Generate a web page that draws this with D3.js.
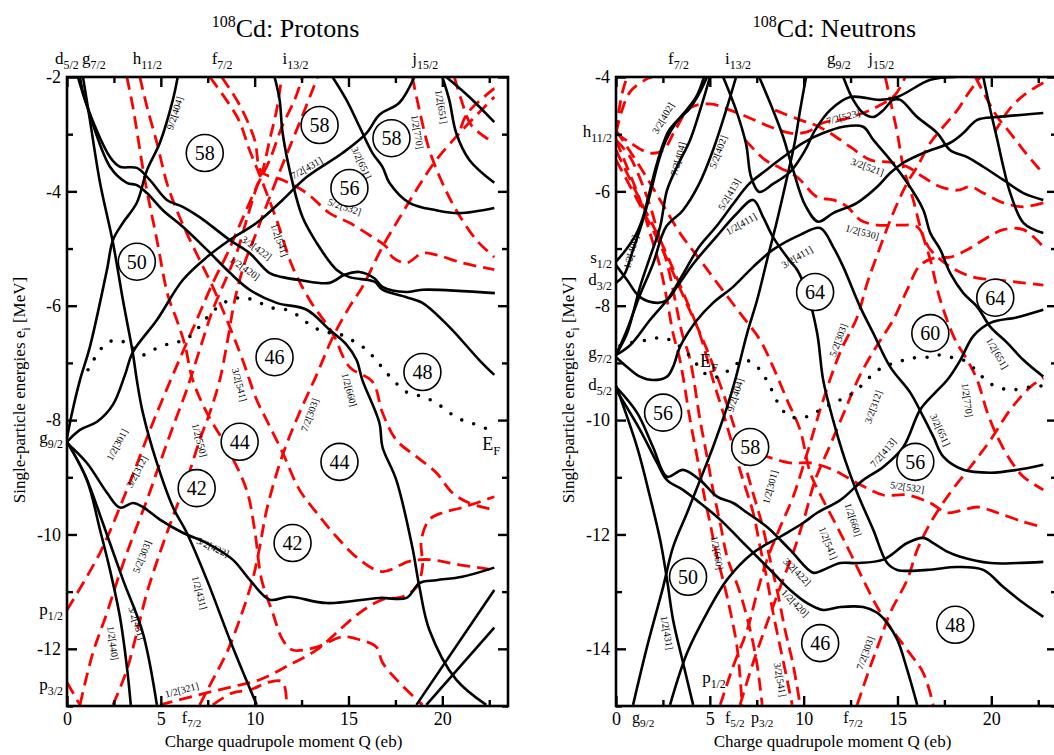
<!DOCTYPE html>
<html>
<head>
<meta charset="utf-8">
<script src="https://cdn.jsdelivr.net/npm/d3@7"></script>
<style>
  body { margin: 0; background: #fff; }
  svg { display: block; font-family: "Liberation Serif", "DejaVu Serif", serif; }
</style>
</head>
<body>
<div id="chart"></div>
<script>
// ---- Protons: single-particle levels [Q (eb), e (MeV)] ----
const protonsSolid = [
  [[0.69,-2.0],[0.96,-2.4],[2.29,-3.4],[2.82,-3.57],[3.72,-3.59],[4.41,-3.8],[5.32,-4.15],[6.17,-4.27],[7.07,-4.45],[8.67,-4.85],[9.73,-5.08],[10.8,-5.43],[11.49,-5.5],[12.39,-5.55],[13.99,-5.6],[14.79,-5.46],[15.59,-5.41],[16.38,-5.52],[16.81,-5.67],[18.09,-5.76],[18.94,-5.72],[22.8,-5.78]],
  [[0.58,-2.0],[0.96,-2.4],[2.29,-3.57],[3.19,-3.85],[3.72,-3.89],[4.26,-4.03],[5.11,-4.33],[6.17,-4.62],[7.45,-5.02],[8.67,-5.42],[9.73,-5.72],[11.17,-5.95],[12.77,-6.07],[13.99,-6.42],[14.89,-6.68],[15.43,-6.95],[15.74,-7.3],[16.65,-8.05],[16.81,-8.47],[17.55,-9.05],[18.4,-10.22],[18.78,-10.92],[19.31,-11.67],[20.74,-12.54],[22.34,-12.98]],
  [[0.85,-2.0],[1.22,-2.75],[1.76,-3.85],[2.45,-4.9],[2.98,-5.9],[3.51,-6.83],[3.72,-7.3],[4.04,-7.87],[4.79,-8.75],[5.64,-9.52],[6.38,-9.97],[7.45,-10.79],[8.83,-11.97],[10.11,-12.98]],
  [[0,-8.31],[0.27,-7.87],[0.69,-7.3],[1.22,-6.72],[2.13,-5.37],[2.45,-4.85],[2.98,-4.55],[3.72,-4.2],[4.26,-3.63],[4.95,-3.15],[5.64,-2.4],[5.9,-2.0]],
  [[0,-8.38],[0.69,-8.17],[1.6,-8.03],[2.45,-7.73],[3.09,-7.21],[3.51,-6.81],[4.79,-6.25],[6.17,-5.55],[7.45,-5.15],[8.67,-4.85],[10.11,-4.55],[11.49,-4.15],[12.77,-3.75],[14.68,-3.33],[15.96,-2.98],[16.65,-2.66],[17.71,-2.45],[18.51,-2.0]],
  [[11.06,-2.0],[11.33,-2.4],[11.49,-2.98],[12.02,-3.85],[12.55,-4.45],[13.3,-4.9],[14.36,-5.37],[15.05,-5.5],[16.38,-5.58],[16.81,-5.72],[18.09,-5.85],[18.94,-5.95],[20.37,-6.37],[21.97,-6.95],[22.77,-7.21]],
  [[14.15,-2.0],[14.89,-2.4],[15.59,-2.87],[16.28,-3.33],[16.81,-3.57],[17.18,-3.85],[18.24,-4.2],[19.68,-4.33],[20.9,-4.38],[22.77,-4.29]],
  [[20.0,-2.0],[20.37,-2.4],[20.74,-2.98],[21.44,-3.45],[22.77,-3.85]],
  [[20.21,-2.0],[21.44,-2.35],[22.77,-2.79]],
  [[0,-8.4],[1.06,-8.75],[2.13,-9.27],[2.82,-9.53],[3.51,-9.45],[4.04,-9.52],[4.95,-9.74],[6.17,-9.97],[7.45,-10.15],[8.83,-10.44],[9.73,-10.79],[10.8,-11.14],[11.86,-11.09],[13.83,-11.2],[16.65,-11.11],[18.09,-11.11],[18.78,-10.85],[19.68,-10.8],[21.06,-10.74],[22.77,-10.58]],
  [[0,-8.38],[1.06,-9.05],[1.76,-9.92],[2.29,-10.62],[2.82,-11.44],[3.19,-12.31],[3.4,-12.98]],
  [[0,-8.38],[0.96,-8.96],[1.91,-9.8],[2.98,-10.79],[4.04,-11.72],[4.79,-12.98]],
  [[18.62,-12.98],[22.77,-10.97]],
  [[19.15,-12.98],[22.77,-11.63]]
];
const protonsDashed = [
  [[3.19,-2.0],[3.51,-2.52],[4.15,-3.8],[4.79,-4.85],[5.37,-5.81],[5.85,-6.25],[6.28,-6.68],[6.7,-7.3],[7.45,-7.87],[8.51,-8.47],[9.57,-9.22],[10.0,-9.92],[10.37,-10.79],[10.96,-11.37],[11.49,-11.84],[12.02,-12.02],[13.3,-11.97],[14.68,-11.79],[15.59,-11.84],[16.49,-11.97],[16.81,-12.24],[17.71,-12.59],[18.94,-12.98]],
  [[3.88,-2.0],[4.26,-2.52],[4.79,-3.15],[5.32,-3.85],[5.85,-4.33],[6.38,-4.73],[7.07,-5.2],[7.77,-5.67],[8.67,-6.37],[9.36,-6.95],[10.11,-7.65],[10.64,-8.0],[11.49,-8.57],[12.39,-9.22],[13.3,-9.62],[14.36,-10.04],[15.59,-10.44],[16.81,-10.65],[18.24,-10.47],[19.31,-10.44],[20.9,-10.53],[22.77,-10.62]],
  [[7.61,-2.0],[9.1,-2.72],[9.73,-3.28],[10.37,-3.8],[11.17,-4.5],[12.02,-5.32],[12.93,-5.9],[14.15,-6.48],[15.05,-7.07],[16.28,-7.33],[16.81,-7.87],[17.55,-8.35],[18.62,-8.64],[19.68,-8.92],[20.53,-9.27],[21.44,-9.45],[22.77,-9.57]],
  [[8.24,-2.0],[9.2,-2.49],[10.0,-3.1],[10.37,-3.66],[11.49,-3.8],[12.77,-4.03],[13.99,-4.38],[15.05,-4.55],[16.28,-4.8],[17.02,-4.97],[17.34,-5.15],[18.09,-5.25],[18.94,-5.08],[19.68,-5.11],[21.06,-5.25],[22.77,-5.37]],
  [[0,-11.32],[1.76,-10.32],[3.19,-9.22],[4.57,-8.05],[5.64,-7.21],[6.91,-6.25],[7.77,-5.6],[8.51,-5.11],[9.2,-4.59],[10.11,-3.92],[10.8,-3.45],[11.49,-2.84],[12.13,-2.4],[12.55,-2.0]],
  [[0.69,-12.98],[1.38,-12.07],[2.13,-11.37],[2.82,-10.67],[3.51,-10.04],[4.26,-9.4],[4.95,-8.75],[5.64,-8.12],[6.38,-7.47],[7.07,-6.77],[7.77,-6.07],[8.51,-5.5],[9.04,-5.08],[9.57,-4.5],[10.11,-3.92],[10.43,-3.63],[10.8,-3.1],[11.17,-2.58],[11.44,-2.0]],
  [[2.45,-12.98],[3.19,-12.37],[3.72,-11.72],[4.26,-11.02],[4.95,-10.32],[5.64,-9.69],[6.38,-9.05],[7.07,-8.35],[7.61,-7.87],[8.14,-7.3],[8.56,-6.6],[8.94,-5.9],[9.47,-5.25],[10.0,-4.8],[10.64,-4.24],[11.33,-3.66],[12.02,-3.1],[12.66,-2.58],[13.35,-2.0]],
  [[7.07,-12.98],[7.77,-12.54],[8.51,-12.07],[9.2,-11.49],[9.89,-10.79],[10.27,-10.22],[10.64,-9.57],[11.49,-8.61],[12.39,-7.87],[13.3,-7.21],[14.15,-6.56],[15.05,-6.02],[15.74,-5.67],[16.81,-4.97],[17.87,-4.38],[18.78,-3.89],[19.68,-3.45],[21.06,-2.93],[22.77,-2.35]],
  [[4.95,-12.98],[7.07,-12.8],[8.83,-12.66],[10.27,-12.54],[11.86,-12.28],[13.3,-12.02],[14.52,-11.67],[15.59,-11.37],[16.81,-11.14],[17.87,-11.09],[18.62,-10.92],[18.94,-10.57],[18.88,-10.1],[19.31,-9.74],[20.0,-9.62],[21.06,-9.53],[22.77,-9.34]],
  [[7.77,-12.98],[8.83,-12.77],[9.73,-12.72],[10.8,-12.58],[11.49,-12.58],[11.7,-12.98]],
  [[0,-12.59],[0.69,-12.98]],
  [[18.4,-2.0],[18.78,-2.58],[19.31,-3.28],[20.0,-3.85],[20.74,-4.33],[21.81,-4.85],[22.77,-5.15]],
  [[20.64,-2.0],[21.01,-2.4],[21.54,-2.84],[22.5,-3.1],[22.77,-3.15]],
  [[22.77,-2.2],[21.3,-2.65],[20.9,-3.0]]
];
const protonsFermi = [[1.12,-7.12],[2.02,-6.68],[2.71,-6.6],[3.46,-6.72],[4.04,-6.86],[4.79,-6.74],[5.59,-6.65],[6.28,-6.6],[6.91,-6.42],[7.45,-6.21],[7.98,-6.04],[8.67,-5.9],[9.47,-5.86],[10.27,-5.95],[10.96,-6.04],[11.7,-6.07],[12.39,-6.19],[13.09,-6.37],[13.83,-6.46],[14.63,-6.51],[15.32,-6.63],[15.96,-6.77],[16.54,-6.98],[17.02,-7.17],[17.55,-7.36],[18.14,-7.52],[18.94,-7.59],[19.68,-7.7],[20.37,-7.87],[21.06,-8.0],[21.81,-8.08],[22.5,-8.17]];
const protonsMagic = [[58,7.34,-3.33],[58,13.46,-2.84],[58,17.29,-3.07],[56,15.05,-3.94],[50,3.72,-5.23],[46,11.06,-6.9],[48,18.94,-7.16],[44,9.2,-8.38],[44,14.52,-8.73],[42,6.91,-9.19],[42,12.02,-10.15]];
const protonsOrbits = [
  ["9/2[404]",5.74,-2.63,-72],["7/2[431]",12.77,-3.59,-30],["3/2[651]",15.69,-3.5,65],["1/2[770]",18.67,-2.96,80],
  ["1/2[651]",19.95,-2.52,80],["5/2[532]",14.79,-4.27,18],["3/2[422]",10.11,-4.99,35],["1/2[420]",9.47,-5.34,35],
  ["1/2[541]",11.33,-4.85,70],["3/2[541]",9.2,-7.38,75],["1/2[660]",15.05,-7.47,75],["7/2[303]",12.93,-7.91,-70],
  ["1/2[550]",7.07,-8.35,75],["1/2[301]",2.66,-8.43,-62],["3/2[312]",3.72,-8.9,-62],["5/2[303]",3.99,-10.39,-68],
  ["5/2[422]",7.77,-10.22,25],["1/2[431]",7.07,-11.02,75],["3/2[431]",3.72,-11.55,72],["1/2[440]",2.45,-11.9,82],
  ["1/2[321]",6.12,-12.72,-15]
];
const protonsTopShells = [["d","5/2",-0.64],["g","7/2",0.8],["h","11/2",3.51],["f","7/2",7.71],["i","13/2",11.49],["j","15/2",18.4]];
const protonsSideShells = [["g","9/2",-8.4],["p","1/2",-11.4],["p","3/2",-12.72]];
const protonsBottomShells = [["f","7/2",6.12]];

// ---- Neutrons ----
const neutronsSolid = [
  [[0,-7.23],[0.53,-7.02],[1.07,-6.75],[1.44,-6.45],[1.76,-6.05],[2.13,-5.57],[2.51,-5.17],[2.83,-4.93],[3.57,-4.65],[4.27,-4.35],[4.69,-4.0]],
  [[0,-7.6],[0.43,-7.46],[0.91,-7.02],[1.44,-6.5],[1.87,-5.98],[2.29,-5.45],[2.67,-5.1],[3.2,-4.8],[3.95,-4.54],[4.48,-4.26],[4.85,-4.0]],
  [[0,-8.86],[0.59,-8.48],[0.91,-8.13],[1.28,-7.67],[1.81,-7.15],[2.35,-6.62],[2.72,-5.98],[3.25,-5.57],[3.95,-5.1],[4.48,-4.58],[5.01,-4.0]],
  [[0,-8.86],[0.59,-8.42],[1.23,-7.85],[1.97,-7.27],[2.67,-6.62],[3.57,-6.33],[4.43,-5.87],[5.17,-5.28],[5.87,-4.58],[6.4,-4.0]],
  [[0,-7.29],[0.59,-7.55],[1.28,-7.85],[2.19,-7.95],[2.72,-7.9],[3.25,-7.67],[4.11,-7.27],[5.33,-6.8],[6.4,-6.4],[7.31,-6.15],[7.84,-6.45],[8.37,-6.8],[9.23,-7.2],[9.65,-7.37],[10.19,-7.78],[10.72,-8.48],[11.04,-9.3],[11.57,-10.0],[12.21,-10.7],[12.85,-11.27],[13.71,-11.92],[14.45,-12.5],[14.99,-12.62],[16.59,-12.62],[18.19,-12.57],[19.57,-12.62],[20.64,-12.92],[21.71,-13.2],[22.77,-13.44]],
  [[0,-8.9],[0.59,-9.07],[1.28,-9.24],[1.97,-9.3],[2.72,-9.24],[3.04,-9.07],[3.41,-8.72],[4.32,-8.25],[5.17,-7.95],[6.24,-7.67],[7.31,-7.32],[8.37,-7.02],[9.81,-6.76],[10.88,-6.64],[11.57,-6.97],[12.11,-7.32],[13.01,-8.02],[13.71,-8.48],[14.61,-9.07],[15.68,-9.52],[16.37,-9.94],[16.91,-10.29],[17.44,-10.64],[18.51,-10.87],[19.95,-10.92],[21.39,-10.87],[22.77,-10.78]],
  [[0,-8.86],[0.75,-8.69],[1.81,-8.25],[2.83,-7.85],[3.57,-7.45],[4.43,-6.97],[5.33,-6.62],[6.24,-6.22],[7.09,-5.87],[8.0,-5.63],[8.91,-5.4],[9.97,-5.15],[11.04,-4.98],[12.11,-4.87],[13.17,-4.87],[13.71,-5.1],[14.61,-5.45],[15.52,-5.85],[16.37,-6.32],[16.75,-6.73],[17.28,-7.02],[17.81,-7.43],[18.51,-7.78],[19.25,-8.02],[19.95,-8.37],[20.85,-8.65],[21.71,-8.95],[22.77,-9.24]],
  [[5.71,-4.0],[6.4,-4.58],[6.93,-5.17],[7.2,-5.75],[7.63,-6.01],[8.37,-5.87],[9.28,-5.66],[10.08,-5.28],[10.61,-4.93],[11.41,-4.58],[12.48,-4.35],[14.08,-4.4],[14.99,-4.35],[16.75,-4.05],[18.08,-4.0]],
  [[7.63,-4.0],[8.37,-4.58],[8.91,-5.05],[9.44,-5.63],[10.08,-6.24],[10.77,-6.53],[11.57,-6.38],[12.85,-6.2],[13.92,-5.92],[14.61,-5.68],[15.31,-5.5],[16.37,-5.33],[17.81,-5.15],[18.51,-4.98],[19.25,-4.75],[20.32,-4.7],[21.71,-4.66],[22.77,-4.63]],
  [[0.91,-14.98],[1.65,-13.97],[2.51,-12.92],[3.04,-12.22],[3.79,-11.62],[4.48,-11.05],[5.17,-10.47],[5.92,-9.77],[6.35,-9.3],[6.99,-8.48],[7.52,-7.9],[8.05,-7.2],[8.59,-6.5],[9.12,-5.75],[9.55,-5.1],[9.81,-4.58],[10.13,-4.0]],
  [[2.88,-14.98],[3.79,-14.07],[4.85,-13.37],[5.92,-12.79],[7.31,-12.32],[8.75,-12.04],[9.97,-11.8],[10.72,-11.62],[11.95,-11.4],[13.17,-11.05],[14.24,-10.82],[15.31,-10.47],[16.21,-9.82],[17.01,-9.52],[17.65,-9.3],[18.35,-8.95],[19.04,-8.53],[19.95,-8.3],[21.39,-8.2],[22.77,-8.07]],
  [[0,-9.4],[1.12,-10.47],[1.81,-11.34],[2.35,-12.09],[2.72,-12.79],[3.04,-13.49],[3.57,-14.24],[4.11,-14.98]],
  [[0,-9.42],[1.12,-9.87],[1.97,-10.47],[2.72,-10.99],[3.57,-10.87],[4.48,-11.05],[5.39,-11.34],[6.24,-11.45],[6.99,-11.62],[8.05,-11.87],[9.28,-12.27],[10.51,-12.67],[11.04,-12.62],[11.95,-12.5],[12.85,-12.5],[14.24,-12.44],[15.52,-12.15],[16.37,-12.06],[16.91,-12.15],[17.65,-12.3],[18.35,-12.39],[19.95,-12.5],[21.39,-12.5],[22.77,-12.48]],
  [[0,-9.47],[1.28,-10.17],[2.19,-10.75],[2.72,-11.05],[3.57,-11.22],[4.48,-11.45],[5.55,-11.74],[6.61,-12.09],[7.52,-12.39],[8.37,-12.67],[9.28,-12.97],[10.19,-13.2],[11.04,-13.32],[11.95,-13.27],[13.17,-13.27],[13.92,-13.37],[14.45,-13.55],[14.99,-13.84],[15.52,-14.37],[16.05,-14.98]],
  [[19.57,-4.0],[19.95,-4.58],[20.32,-5.1],[20.64,-5.57],[21.01,-6.03],[21.71,-6.55],[22.77,-6.73]],
  [[12.11,-4.0],[12.64,-4.4],[13.17,-4.63],[13.71,-4.7],[14.24,-4.58],[14.77,-4.4],[15.15,-4.4],[16.05,-4.7],[17.12,-4.98],[17.81,-5.28],[18.72,-5.4],[19.57,-5.57],[20.64,-5.8],[21.71,-6.03],[22.77,-6.15]]
];
const neutronsDashed = [
  [[0,-4.98],[0.32,-4.58],[0.75,-4.26],[1.55,-4.05],[1.92,-4.0]],
  [[0,-4.98],[0.16,-4.58],[0.37,-4.23],[0.59,-4.0]],
  [[0,-4.98],[0.75,-5.15],[1.81,-5.33],[2.51,-5.28],[3.15,-4.93],[3.95,-4.54],[5.01,-4.47],[6.08,-4.58],[7.15,-4.72],[8.21,-4.87],[9.28,-4.98],[10.19,-4.96],[11.04,-4.8],[11.95,-4.75],[13.17,-4.63],[13.92,-4.52],[14.88,-4.31],[15.41,-4.0]],
  [[0,-5.1],[0.37,-5.4],[1.28,-6.15],[1.81,-6.73],[2.35,-7.32],[2.72,-7.9],[3.04,-8.48],[3.41,-8.95],[3.95,-10.0],[4.32,-10.64],[4.64,-11.22],[5.01,-11.8],[5.39,-12.39],[5.92,-13.09],[6.45,-13.97],[6.72,-14.98]],
  [[0,-5.1],[0.75,-5.4],[1.71,-6.15],[2.24,-6.73],[2.77,-7.32],[3.15,-7.9],[3.52,-8.48],[3.95,-8.95],[4.48,-10.0],[4.85,-10.64],[5.17,-11.22],[5.55,-11.8],[5.92,-12.39],[6.61,-13.02],[7.15,-13.67],[7.52,-14.28],[7.79,-14.98]],
  [[0,-4.93],[1.28,-5.57],[2.35,-6.15],[3.41,-6.73],[4.48,-7.2],[5.55,-7.67],[6.61,-8.13],[7.68,-8.6],[8.37,-9.07],[9.12,-9.65],[9.81,-10.17],[10.35,-10.92],[11.04,-11.4],[11.79,-11.87],[12.48,-12.32],[13.17,-12.79],[13.92,-13.27],[14.61,-13.62],[15.52,-14.02],[16.37,-14.42],[16.91,-14.98]],
  [[0,-5.28],[1.28,-6.15],[2.35,-6.85],[3.41,-7.64],[4.48,-8.51],[5.17,-9.3],[5.71,-9.87],[6.24,-10.47],[6.77,-11.05],[7.31,-11.62],[7.68,-12.22],[8.05,-12.79],[8.37,-13.37],[8.75,-13.97],[9.12,-14.54],[9.39,-14.98]],
  [[0,-5.45],[1.55,-6.41],[2.61,-7.11],[3.68,-7.9],[4.75,-8.69],[5.55,-9.38],[6.19,-10.0],[6.72,-10.6],[7.25,-11.22],[7.79,-11.83],[8.21,-12.44],[8.64,-13.06],[9.01,-13.67],[9.44,-14.28],[9.81,-14.98]],
  [[5.55,-14.98],[6.24,-14.31],[6.99,-13.67],[7.52,-13.02],[8.05,-12.44],[8.75,-11.87],[9.44,-11.34],[10.24,-10.52],[11.04,-9.65],[11.95,-8.81],[12.85,-8.2],[13.39,-7.6],[14.08,-6.97],[14.77,-6.38],[15.52,-5.85],[16.05,-5.57],[16.75,-5.15],[17.44,-4.87],[18.19,-4.58],[18.72,-4.31],[19.41,-4.0]],
  [[6.61,-14.98],[7.31,-14.24],[8.05,-13.55],[8.75,-12.92],[9.44,-12.32],[10.08,-11.66],[10.61,-11.05],[11.41,-10.44],[12.21,-9.82],[13.01,-9.21],[13.92,-8.69],[14.77,-8.25],[15.52,-7.72],[16.21,-7.29],[17.01,-7.16],[17.81,-7.15],[18.72,-7.02],[19.57,-6.85],[20.64,-6.67],[21.71,-6.67],[22.77,-6.97]],
  [[12.85,-14.98],[13.55,-14.31],[14.08,-13.84],[14.61,-13.37],[15.52,-12.79],[16.05,-12.27],[16.75,-11.8],[17.81,-11.27],[18.88,-10.82],[19.95,-10.35],[21.01,-9.82],[22.08,-9.42],[22.77,-9.26]],
  [[14.35,-4.0],[14.61,-4.4],[14.99,-4.98],[15.31,-5.57],[15.84,-6.15],[16.21,-6.62],[16.75,-7.2],[17.28,-7.9],[18.08,-8.6],[18.72,-8.95],[19.25,-9.3],[19.79,-9.87],[20.32,-10.29],[21.01,-10.7],[21.71,-10.99],[22.77,-11.22]],
  [[7.68,-10.6],[9.28,-10.75],[10.35,-10.75],[11.57,-10.87],[12.85,-11.1],[14.24,-11.31],[15.52,-11.31],[16.75,-11.45],[17.65,-11.62],[18.51,-11.57],[19.25,-11.52],[20.32,-11.62],[21.71,-11.78],[22.77,-11.87]],
  [[6.88,-5.1],[7.95,-5.45],[8.75,-5.59],[9.65,-5.75],[10.72,-6.1],[11.57,-6.15],[12.32,-6.27],[13.01,-6.5],[13.92,-6.59],[15.15,-6.59],[16.05,-6.62],[16.75,-7.02],[17.81,-7.32],[19.04,-7.5],[20.32,-7.55],[21.71,-7.6],[22.77,-7.64]],
  [[8.48,-4.58],[9.81,-4.75],[10.61,-4.84],[11.41,-4.98],[12.48,-5.22],[13.55,-5.45],[14.61,-5.49],[15.52,-5.57],[16.37,-5.75],[17.28,-5.92],[18.19,-5.98],[18.88,-5.92],[19.57,-6.03],[20.64,-6.2],[21.71,-6.27],[22.77,-6.2]],
  [[19.15,-4.0],[19.79,-4.4],[20.32,-4.7],[21.01,-4.98],[21.71,-5.28],[22.45,-5.57],[22.77,-5.68]],
  [[22.77,-4.1],[21.8,-4.3],[21.0,-4.55],[20.2,-4.95]]
];
const neutronsFermi = [[0.21,-8.7],[0.75,-8.65],[1.65,-8.6],[2.51,-8.56],[3.15,-8.65],[3.79,-8.83],[4.32,-9.03],[4.85,-9.21],[5.55,-9.24],[6.19,-9.07],[6.88,-8.95],[7.52,-9.07],[7.95,-9.26],[8.37,-9.52],[8.75,-9.77],[9.28,-9.94],[10.19,-9.94],[10.88,-9.82],[11.57,-9.7],[12.32,-9.59],[13.01,-9.42],[13.55,-9.24],[14.24,-9.07],[14.99,-8.99],[15.68,-8.92],[16.59,-8.9],[17.12,-8.86],[17.81,-8.9],[18.51,-8.95],[19.25,-9.15],[19.79,-9.33],[20.48,-9.44],[21.17,-9.47],[22.08,-9.42],[22.77,-9.4]];
const neutronsMagic = [[64,10.61,-7.76],[64,20.21,-7.86],[60,16.75,-8.48],[56,2.51,-9.87],[58,7.15,-10.47],[56,15.95,-10.73],[50,3.84,-12.74],[46,10.88,-13.9],[48,18.08,-13.58]];
const neutronsOrbits = [
  ["3/2[402]",2.51,-4.72,-60],["7/2[404]",3.31,-5.43,-75],["5/2[402]",5.44,-5.31,-70],["5/2[413]",6.03,-6.05,-60],
  ["1/2[411]",6.67,-6.57,-30],["1/2[400]",0.8,-7.06,-75],["3/2[411]",9.65,-7.15,-30],["7/2[523]",12.11,-4.7,-15],
  ["3/2[521]",13.39,-5.57,20],["1/2[530]",13.12,-6.71,15],["5/2[303]",11.84,-8.6,-70],["1/2[651]",20.32,-8.83,60],
  ["3/2[312]",13.71,-9.77,-70],["1/2[770]",18.72,-9.65,82],["3/2[651]",17.28,-10.17,65],["7/2[413]",14.24,-10.57,-50],
  ["5/2[532]",15.52,-11.17,8],["1/2[660]",12.64,-11.74,72],["1/2[541]",11.31,-12.15,68],["3/2[422]",9.65,-12.65,45],
  ["1/2[420]",9.55,-13.2,45],["7/2[303]",13.28,-14.07,-70],["9/2[404]",6.35,-9.56,-72],["1/2[301]",8.21,-11.17,-75],
  ["1/2[660]",5.39,-12.32,80],["1/2[431]",2.72,-13.72,80],["3/2[541]",8.75,-14.54,80]
];
const neutronsTopShells = [["f","7/2",2.77],["i","13/2",5.81],["g","9/2",11.25],["j","15/2",13.44]];
const neutronsSideShells = [["h","11/2",-5.05],["s","1/2",-7.25],["d","3/2",-7.63],["g","7/2",-8.91],["d","5/2",-9.47]];
const neutronsBottomShells = [["g","9/2",0.85],["f","5/2",5.81],["p","3/2",7.2],["f","7/2",12.11]];
const neutronsInnerShells = [["p","1/2",4.59,-14.59]];

const qDomain = [0, 23.5];
const qMajor = [0, 5, 10, 15, 20];
const qMinor = [2.5, 7.5, 12.5, 17.5, 22.5];

const W = 1054, H = 755;
const svg = d3.select("#chart").append("svg")
  .attr("width", W).attr("height", H).attr("viewBox", `0 0 ${W} ${H}`);

const plotTop = 77, plotBottom = 706, plotW = 441;

function addSub(sel, main, sub, size, drop) {
  sel.append("tspan").text(main);
  sel.append("tspan").attr("font-size", size * 0.7).attr("dy", drop != null ? drop : size * 0.3).text(sub);
}

function drawPanel(cfg) {
  const x = d3.scaleLinear().domain(qDomain).range([cfg.left, cfg.left + plotW]);
  const y = d3.scaleLinear().domain(cfg.eDomain).range([plotBottom, plotTop]);
  const g = svg.append("g");

  g.append("clipPath").attr("id", "clip-" + cfg.id)
    .append("rect").attr("x", cfg.left).attr("y", plotTop).attr("width", plotW).attr("height", plotBottom - plotTop);

  const line = d3.line().x(d => x(d[0])).y(d => y(d[1])).curve(d3.curveCatmullRom.alpha(0.5));
  const plot = g.append("g").attr("clip-path", `url(#clip-${cfg.id})`);

  plot.selectAll("path.dash").data(cfg.dashed).join("path")
    .attr("class", "dash").attr("d", line).attr("fill", "none")
    .attr("stroke", "#ff0000").attr("stroke-width", 2.8).attr("stroke-dasharray", "13,7");

  plot.selectAll("path.solid").data(cfg.solid).join("path")
    .attr("class", "solid").attr("d", line).attr("fill", "none")
    .attr("stroke", "#000").attr("stroke-width", 2.6);

  plot.append("path").datum(cfg.fermi).attr("d", line).attr("fill", "none")
    .attr("stroke", "#000").attr("stroke-width", 3.6).attr("stroke-linecap", "round")
    .attr("stroke-dasharray", "0,12.5");

  // Nilsson labels
  plot.selectAll("text.orb").data(cfg.orbits).join("text")
    .attr("class", "orb")
    .attr("transform", d => `translate(${x(d[1])},${y(d[2])}) rotate(${d[3]})`)
    .attr("text-anchor", "middle").attr("dy", "0.35em")
    .attr("font-size", 10).attr("fill", "#000")
    .text(d => d[0]);

  // magic number circles
  const mg = plot.selectAll("g.magic").data(cfg.magic).join("g")
    .attr("class", "magic")
    .attr("transform", d => `translate(${x(d[1])},${y(d[2])})`);
  mg.append("circle").attr("r", 18.5).attr("fill", "#fff").attr("stroke", "#000").attr("stroke-width", 1.6);
  mg.append("text").attr("text-anchor", "middle").attr("dy", "0.35em")
    .attr("font-size", 20).text(d => d[0]);

  // frame
  g.append("rect").attr("x", cfg.left).attr("y", plotTop).attr("width", plotW).attr("height", plotBottom - plotTop)
    .attr("fill", "none").attr("stroke", "#000").attr("stroke-width", 2.6);

  // ticks (inward on all sides)
  const axes = [
    { ax: d3.axisBottom(x), t: `translate(0,${plotBottom})`, v: qMajor, s: -10, lab: true },
    { ax: d3.axisBottom(x), t: `translate(0,${plotBottom})`, v: qMinor, s: -6, lab: false },
    { ax: d3.axisTop(x), t: `translate(0,${plotTop})`, v: qMajor, s: -10, lab: false },
    { ax: d3.axisTop(x), t: `translate(0,${plotTop})`, v: qMinor, s: -6, lab: false },
    { ax: d3.axisLeft(y), t: `translate(${cfg.left},0)`, v: cfg.eMajor, s: -10, lab: true },
    { ax: d3.axisLeft(y), t: `translate(${cfg.left},0)`, v: cfg.eMinor, s: -6, lab: false },
    { ax: d3.axisRight(y), t: `translate(${cfg.left + plotW},0)`, v: cfg.eMajor, s: -10, lab: false },
    { ax: d3.axisRight(y), t: `translate(${cfg.left + plotW},0)`, v: cfg.eMinor, s: -6, lab: false }
  ];
  axes.forEach(a => {
    const ag = g.append("g").attr("transform", a.t)
      .call(a.ax.tickValues(a.v).tickSize(a.s).tickPadding(a.lab ? 6 : 0).tickFormat(a.lab ? (d => String(d)) : () => ""));
    ag.select(".domain").remove();
    ag.selectAll("line").attr("stroke", "#000").attr("stroke-width", 2.4);
    ag.selectAll("text").attr("font-family", "Liberation Serif, serif").attr("font-size", 18).attr("fill", "#000");
  });

  // shell labels
  cfg.topShells.forEach(s => {
    addSub(g.append("text").attr("x", x(s[2])).attr("y", 64).attr("font-size", 17), s[0], s[1], 17);
  });
  cfg.sideShells.forEach(s => {
    addSub(g.append("text").attr("x", cfg.left - 4).attr("y", y(s[2])).attr("text-anchor", "end").attr("font-size", 17), s[0], s[1], 17);
  });
  cfg.bottomShells.forEach(s => {
    addSub(g.append("text").attr("x", x(s[2])).attr("y", 723).attr("font-size", 16), s[0], s[1], 16, 3.5);
  });
  (cfg.innerShells || []).forEach(s => {
    addSub(g.append("text").attr("x", x(s[2])).attr("y", y(s[3])).attr("font-size", 17), s[0], s[1], 17);
  });

  // Fermi label
  addSub(g.append("text").attr("x", x(cfg.efPos[0])).attr("y", y(cfg.efPos[1])).attr("font-size", 18), "E", "F", 18);

  // axis titles
  const cx = cfg.left + plotW / 2 - 4;
  g.append("text").attr("x", cx).attr("y", 747).attr("text-anchor", "middle").attr("font-size", 17)
    .text("Charge quadrupole moment Q (eb)");
  const yt = g.append("text").attr("transform", `translate(${cfg.left - 42},390) rotate(-90)`)
    .attr("text-anchor", "middle").attr("font-size", 17);
  yt.append("tspan").text("Single-particle energies e");
  yt.append("tspan").attr("font-size", 12).attr("dy", 5).text("i");
  yt.append("tspan").attr("dy", -5).text(" [MeV]");

  // title
  const tt = g.append("text").attr("x", cx + 2).attr("y", 37).attr("text-anchor", "middle").attr("font-size", 26);
  tt.append("tspan").attr("font-size", 16).attr("dy", -10).text("108");
  tt.append("tspan").attr("dy", 10).text(cfg.title);
}

drawPanel({
  id: "p", left: 67, eDomain: [-13, -2], eMajor: [-12, -10, -8, -6, -4, -2], eMinor: [-13, -11, -9, -7, -5, -3],
  solid: protonsSolid, dashed: protonsDashed, fermi: protonsFermi, magic: protonsMagic, orbits: protonsOrbits,
  topShells: protonsTopShells, sideShells: protonsSideShells, bottomShells: protonsBottomShells,
  efPos: [22.13, -8.52], title: "Cd: Protons"
});
drawPanel({
  id: "n", left: 616, eDomain: [-15, -4], eMajor: [-14, -12, -10, -8, -6, -4], eMinor: [-15, -13, -11, -9, -7, -5],
  solid: neutronsSolid, dashed: neutronsDashed, fermi: neutronsFermi, magic: neutronsMagic, orbits: neutronsOrbits,
  topShells: neutronsTopShells, sideShells: neutronsSideShells, bottomShells: neutronsBottomShells,
  innerShells: neutronsInnerShells, efPos: [4.48, -9.07], title: "Cd: Neutrons"
});
</script>
</body>
</html>
